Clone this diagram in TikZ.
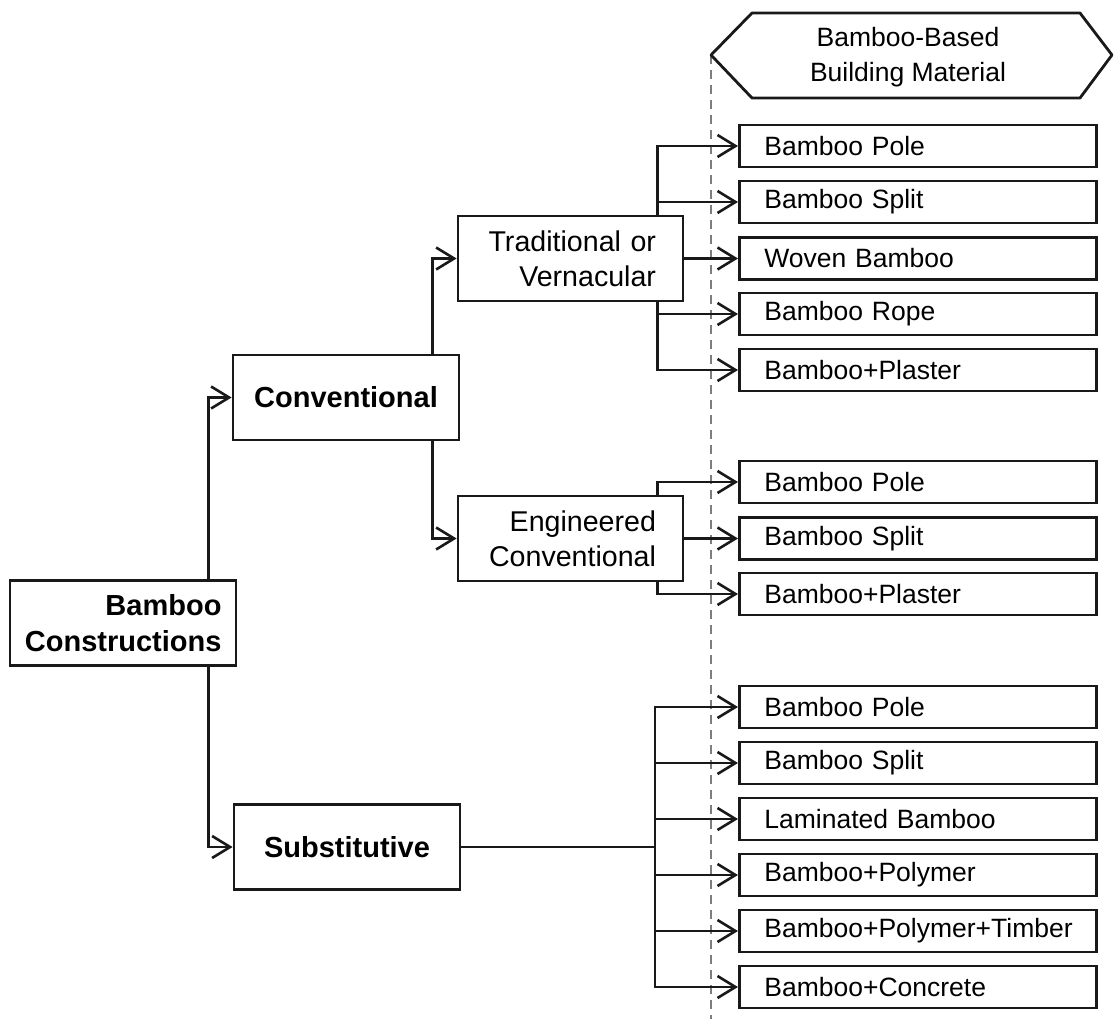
\documentclass[tikz,border=0pt]{standalone}
\usepackage{fontspec}
\setmainfont{Liberation Sans}
\usepackage{xcolor}
\definecolor{inkblack}{RGB}{25,25,25}
\definecolor{dashgray}{RGB}{125,125,132}
\usetikzlibrary{arrows.meta}
\tikzset{>={Straight Barb[length=18pt,width=22pt]}}
\tikzset{%
    topbox/.style={draw=inkblack, line width=2.8pt, minimum height=85pt, text width=197pt,
        inner xsep=14.5pt, font=\fontsize{29}{36}\selectfont\bfseries},
    midbox/.style={draw=inkblack, line width=2.8pt, minimum height=85pt, text width=171pt,
        inner xsep=27pt, align=right, font=\fontsize{28.6}{35}\selectfont},
    itembox/.style={draw=inkblack, line width=2.8pt, minimum height=42pt, text width=307pt,
        inner xsep=25pt, align=left, anchor=west, font=\fontsize{26.5}{34}\selectfont},
    link/.style={->, line width=2.6pt, draw=inkblack}
}

\begin{document}
\begin{tikzpicture}[x=1pt,y=-1pt]
\useasboundingbox (0,0) rectangle (1114,1019);

\coordinate (hexw) at (711,55);
\draw[dashgray, line width=1.8pt, dash pattern=on 9pt off 6pt] (hexw) -- (711,1019);

\node[font=\fontsize{26.5}{35}\selectfont, align=center] (bbm) at (908,57) {Bamboo-Based\\Building Material};
\draw[inkblack, line width=2.8pt, line join=round] (hexw) -- (752,13) -- (1080,13) -- (1112,55) -- (1080,98) -- (752,98) -- cycle;

\node[topbox, align=right] (bc) at (123,623) {Bamboo\\Constructions};
\node[topbox, align=center] (conv) at (346,397.5) {Conventional};
\node[topbox, align=center] (sub) at (347,847) {Substitutive};

\node[midbox] (trad) at (570.5,258.5) {Traditional or\\Vernacular};
\node[midbox] (eng) at (570.5,538.5) {Engineered\\Conventional};

\node[itembox] (t1) at (738,146) {Bamboo Pole};
\node[itembox] (t2) at (738,202) {Bamboo Split};
\node[itembox] (t3) at (738,258.5) {Woven Bamboo};
\node[itembox] (t4) at (738,314) {Bamboo Rope};
\node[itembox] (t5) at (738,370) {Bamboo+Plaster};

\node[itembox] (e1) at (738,482) {Bamboo Pole};
\node[itembox] (e2) at (738,538.5) {Bamboo Split};
\node[itembox] (e3) at (738,594) {Bamboo+Plaster};

\node[itembox] (s1) at (738,707) {Bamboo Pole};
\node[itembox] (s2) at (738,763) {Bamboo Split};
\node[itembox] (s3) at (738,819) {Laminated Bamboo};
\node[itembox] (s4) at (738,875) {Bamboo+Polymer};
\node[itembox] (s5) at (738,931) {Bamboo+Polymer+Timber};
\node[itembox] (s6) at (738,987) {Bamboo+Concrete};

\draw[link] ([xshift=-29pt]bc.north east) |- (conv.west);
\draw[link] ([xshift=-29pt]bc.south east) |- (sub.west);

\draw[link] ([xshift=-28pt]conv.north east) |- (trad.west);
\draw[link] ([xshift=-28pt]conv.south east) |- (eng.west);

\draw[link] ([xshift=-27pt]trad.north east) |- (t1.west);
\draw[link] ([xshift=-27pt]trad.north east) |- (t2.west);
\draw[link] (trad.east) -- (t3.west);
\draw[link] ([xshift=-27pt]trad.south east) |- (t4.west);
\draw[link] ([xshift=-27pt]trad.south east) |- (t5.west);

\draw[link] ([xshift=-27pt]eng.north east) |- (e1.west);
\draw[link] (eng.east) -- (e2.west);
\draw[link] ([xshift=-27pt]eng.south east) |- (e3.west);

\coordinate (sj) at (655,847);
\draw[inkblack, line width=2.6pt] (sub.east) -- (sj);
\draw[link] (sj) |- (s1.west);
\draw[link] (sj) |- (s2.west);
\draw[link] (sj) |- (s3.west);
\draw[link] (sj) |- (s4.west);
\draw[link] (sj) |- (s5.west);
\draw[link] (sj) |- (s6.west);
\end{tikzpicture}
\end{document}
